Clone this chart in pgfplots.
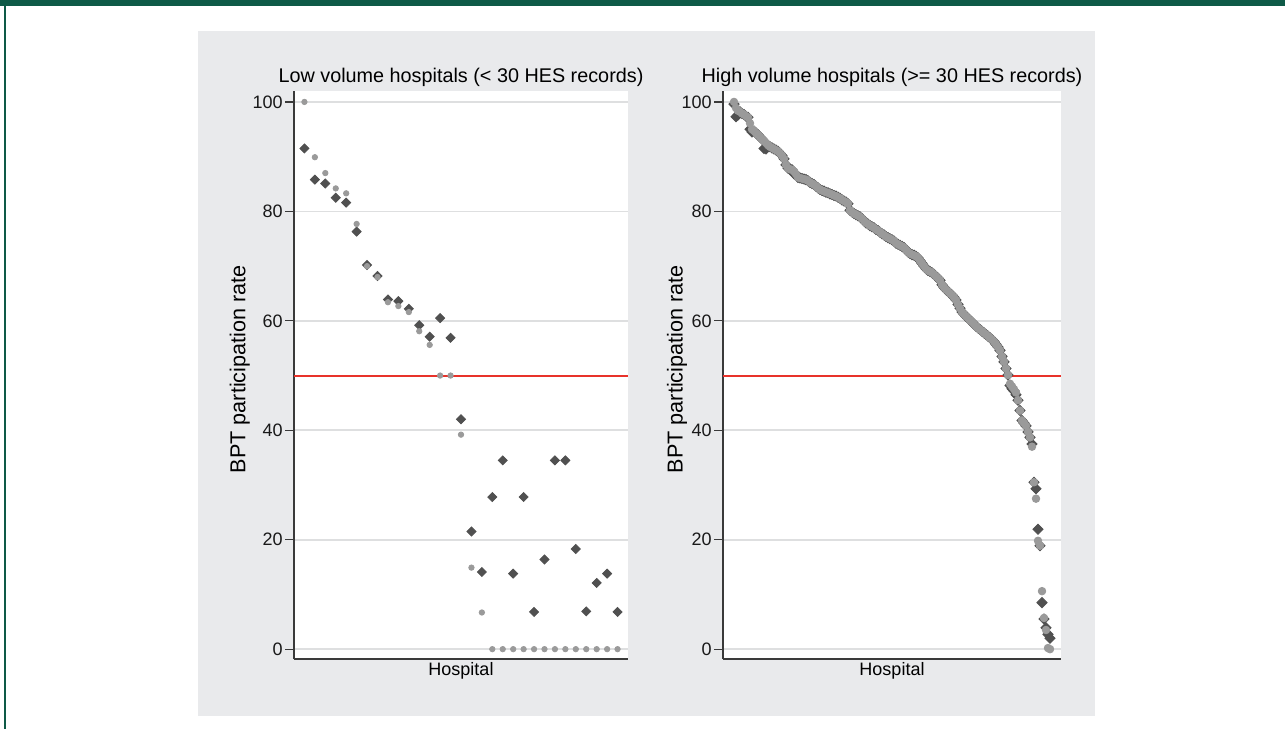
\documentclass[border=0pt]{standalone}
\usepackage{fontspec}
\setmainfont{Liberation Sans}
\usepackage{pgfplots}
\usepackage{pgfplotstable}
\pgfplotsset{compat=1.18}
\definecolor{greenbar}{HTML}{0E5A47}
\definecolor{panelbg}{HTML}{E9EAEC}
\definecolor{gridc}{HTML}{DEDFE0}
\definecolor{axc}{HTML}{3A3A3A}
\definecolor{darkm}{HTML}{505050}
\definecolor{lightm}{HTML}{9A9A9A}
\definecolor{refred}{HTML}{E8322A}

\pgfplotstableread{
k c d
1 100.0 91.5
2 89.9 85.8
3 87.0 85.1
4 84.2 82.5
5 83.3 81.6
6 77.7 76.3
7 70.0 70.2
8 68.0 68.2
9 63.4 63.9
10 62.7 63.6
11 61.6 62.2
12 58.1 59.2
13 55.6 57.1
14 50.0 60.5
15 50.0 56.9
16 39.2 42.0
17 14.9 21.5
18 6.7 14.1
19 0 27.8
20 0 34.5
21 0 13.8
22 0 27.8
23 0 6.8
24 0 16.4
25 0 34.5
26 0 34.5
27 0 18.3
28 0 6.9
29 0 12.1
30 0 13.8
31 0 6.8
}\lowtab

\pgfplotstableread{
k c d
1 100.0 99.6
2 98.9 97.3
3 98.4 97.6
4 98.2 98.2
5 97.9 97.9
6 97.7 97.7
7 97.4 97.4
8 97.2 97.2
9 96.1 95.0
10 95.0 94.5
11 94.7 94.7
12 94.3 94.3
13 94.0 94.0
14 93.6 93.6
15 93.2 93.2
16 92.9 91.5
17 92.5 91.4
18 92.1 92.1
19 91.8 91.8
20 91.6 91.6
21 91.4 91.4
22 91.2 91.2
23 91.0 91.0
24 90.6 90.6
25 90.2 90.2
26 89.6 89.6
27 88.5 88.5
28 87.9 87.9
29 87.7 87.7
30 87.6 87.6
31 87.3 86.9
32 86.8 86.8
33 86.2 86.2
34 86.1 86.1
35 86.0 86.0
36 85.9 85.9
37 85.8 85.8
38 85.6 85.6
39 85.3 85.3
40 85.1 85.1
41 84.9 84.9
42 84.6 84.6
43 84.3 84.3
44 84.0 84.0
45 83.8 83.8
46 83.7 83.7
47 83.5 83.5
48 83.4 83.4
49 83.2 83.2
50 83.1 83.1
51 82.9 82.9
52 82.8 82.8
53 82.6 82.6
54 82.4 82.4
55 82.1 82.1
56 81.9 81.9
57 81.7 81.7
58 81.4 81.4
59 80.2 80.2
60 79.9 79.9
61 79.6 79.6
62 79.4 79.4
63 79.2 79.2
64 79.0 79.0
65 78.7 78.7
66 78.3 78.3
67 77.9 77.9
68 77.7 77.7
69 77.4 77.4
70 77.2 77.2
71 77.0 77.0
72 76.7 76.7
73 76.5 76.5
74 76.2 76.2
75 75.9 75.9
76 75.7 75.7
77 75.4 75.4
78 75.2 75.2
79 75.0 75.0
80 74.8 74.8
81 74.6 74.6
82 74.2 74.2
83 74.0 74.0
84 73.8 73.8
85 73.6 73.6
86 73.4 73.4
87 73.0 73.0
88 72.6 72.6
89 72.3 72.3
90 72.1 72.1
91 72.0 72.0
92 71.8 71.8
93 71.5 71.5
94 71.0 71.0
95 70.5 70.5
96 70.0 70.0
97 69.5 69.5
98 69.2 69.2
99 69.0 69.0
100 68.8 68.8
101 68.5 68.5
102 68.1 68.1
103 67.8 67.8
104 67.4 67.4
105 66.6 66.6
106 66.1 66.1
107 65.7 65.7
108 65.4 65.4
109 65.0 65.0
110 64.7 64.7
111 64.3 64.3
112 63.8 63.8
113 63.0 63.0
114 62.3 62.3
115 61.6 61.6
116 61.2 61.2
117 60.8 60.8
118 60.5 60.5
119 60.1 60.1
120 59.8 59.8
121 59.4 59.4
122 59.0 59.0
123 58.7 58.7
124 58.4 58.4
125 58.1 58.1
126 57.8 57.8
127 57.5 57.5
128 57.2 57.2
129 56.9 56.9
130 56.6 56.6
131 56.2 56.2
132 55.7 55.7
133 55.2 55.2
134 54.6 54.6
135 53.5 53.5
136 52.5 52.5
137 51.3 51.3
138 50.1 50.1
139 48.5 48.2
140 48.0 47.6
141 47.5 47.2
142 46.9 46.5
143 45.5 45.5
144 43.6 43.6
145 41.8 41.8
146 41.3 41.3
147 40.8 40.8
148 39.7 39.7
149 38.7 38.7
150 37.0 37.5
151 30.5 30.5
152 27.5 29.3
153 19.8 21.9
154 18.9 18.9
155 10.6 8.5
156 5.7 5.5
157 3.5 3.9
158 0.2 2.7
159 0.0 2.0
}\hightab

\pgfplotsset{
  hosp/.style={
    scale only axis,
    height=284pt,
    ymin=-1.8, ymax=102,
    ytick={0,20,40,60,80,100},
    xtick=\empty,
    axis x line*=bottom, axis y line*=left,
    axis line style={-, axc, line width=0.8pt},
    axis background/.style={fill=white},
    ymajorgrids,
    major grid style={gridc, line width=0.8pt},
    tick align=outside, major tick length=4.5pt,
    tick style={axc, line width=0.6pt},
    font=\fontsize{9}{10.8}\selectfont,
    /pgf/number format/assume math mode=true,
    yticklabel style={font=\fontsize{9}{10.8}\selectfont, text=black!90, xshift=2.3pt},
    every axis title shift=0pt,
    title style={anchor=base, yshift=4pt, font=\fontsize{9.9}{11.5}\selectfont},
    xlabel={Hospital},
    xlabel style={at={(axis description cs:0.5,0)}, anchor=base, yshift=-8.3pt},
    ylabel={BPT participation rate},
  },
  dmark/.style={only marks, mark=square*, mark size=1.6pt,
    mark options={rotate=45, fill=darkm, draw=darkm}},
  cmark/.style={only marks, mark=*, mark size=1.35pt,
    mark options={fill=lightm, draw=lightm}},
}

\begin{document}
\begin{tikzpicture}
\path[use as bounding box] (0pt,0pt) rectangle (642.5pt,364.5pt);
\fill[white] (0pt,0pt) rectangle (642.5pt,364.5pt);
\fill[panelbg] (99pt,6.5pt) rectangle (547.5pt,349pt);
\fill[greenbar] (0pt,361.5pt) rectangle (642.5pt,364.5pt);
\fill[greenbar] (2pt,0pt) rectangle (3pt,364.5pt);

\begin{axis}[hosp, at={(147pt,35pt)}, anchor=south west,
  width=167pt, xmin=0, xmax=32,
  title={Low volume hospitals (< 30 HES records)},
  ylabel style={at={(axis description cs:-0.162,0.51)}, anchor=center, font=\fontsize{10.8}{12.5}\selectfont}]
\draw[draw=refred, line width=1pt] (axis cs:0,50) -- (axis cs:32,50);
\addplot[dmark] table[x=k, y=d] {\lowtab};
\addplot[cmark] table[x=k, y=c] {\lowtab};
\end{axis}

\begin{axis}[hosp, at={(361.5pt,35pt)}, anchor=south west,
  width=169pt, xmin=-4.5, xmax=164.5,
  title={High volume hospitals (>= 30 HES records)},
  ylabel style={at={(axis description cs:-0.136,0.51)}, anchor=center, font=\fontsize{10.8}{12.5}\selectfont}]
\draw[draw=refred, line width=1pt] (axis cs:-4.5,50) -- (axis cs:164.5,50);
\addplot[dmark, mark size=1.8pt] table[x=k, y=d] {\hightab};
\addplot[cmark, mark size=1.9pt] table[x=k, y=c] {\hightab};
\end{axis}
\end{tikzpicture}
\end{document}
